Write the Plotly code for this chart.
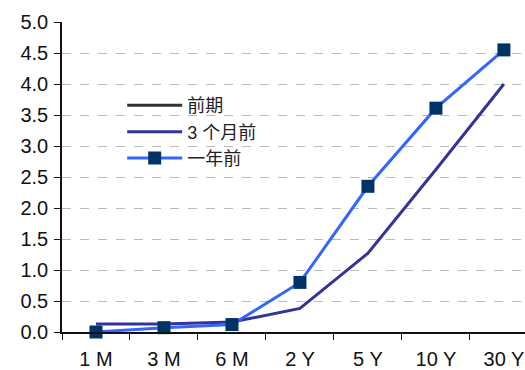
import plotly.graph_objects as go

categories = ["1 M", "3 M", "6 M", "2 Y", "5 Y", "10 Y", "30 Y"]
prev_period = [None, None, None, None, None, None, None]
three_months_ago = [0.13, 0.13, 0.16, 0.38, 1.27, 2.62, 4.0]
one_year_ago = [0.0, 0.07, 0.12, 0.8, 2.35, 3.61, 4.55]
y_ticks = [0.0, 0.5, 1.0, 1.5, 2.0, 2.5, 3.0, 3.5, 4.0, 4.5, 5.0]

font_family = "Liberation Sans, Arial, Noto Sans CJK SC"

fig = go.Figure()
fig.add_trace(go.Scatter(x=categories, y=prev_period, name="前期", mode="lines",
                         line=dict(color="#333333", width=3)))
fig.add_trace(go.Scatter(x=categories, y=three_months_ago, name="3 个月前", mode="lines",
                         line=dict(color="#333399", width=3), cliponaxis=False))
fig.add_trace(go.Scatter(x=categories, y=one_year_ago, name="一年前", mode="lines+markers",
                         line=dict(color="#3366FF", width=3), cliponaxis=False,
                         marker=dict(symbol="square", size=13, color="#003366")))

fig.update_layout(
    width=525, height=370,
    margin=dict(l=62, r=0, t=22, b=38),
    paper_bgcolor="white", plot_bgcolor="white",
    font=dict(family=font_family, size=20, color="#111111"),
    showlegend=True,
    legend=dict(x=0.13, y=0.79, xanchor="left", yanchor="top",
                bgcolor="rgba(0,0,0,0)", font=dict(size=18, color="#222222"),
                tracegroupgap=0, itemwidth=55),
    xaxis=dict(type="category", range=[-0.5, 6.31], showgrid=False,
               showline=True, linecolor="#111111", linewidth=1.5,
               ticks="outside", ticklen=6, tickcolor="#111111",
               tickson="boundaries", tickfont=dict(size=20),
               ticklabelstandoff=8),
    yaxis=dict(range=[0, 5.0], tickvals=y_ticks, ticktext=[f"{v:.1f}" for v in y_ticks],
               showgrid=True, gridcolor="#BBBBBB", griddash="dash", gridwidth=1,
               showline=True, linecolor="#111111", linewidth=1.5,
               ticks="outside", ticklen=6, tickcolor="#111111",
               zeroline=False, tickfont=dict(size=20), ticklabelstandoff=2),
)

fig.write_html("out.html")
